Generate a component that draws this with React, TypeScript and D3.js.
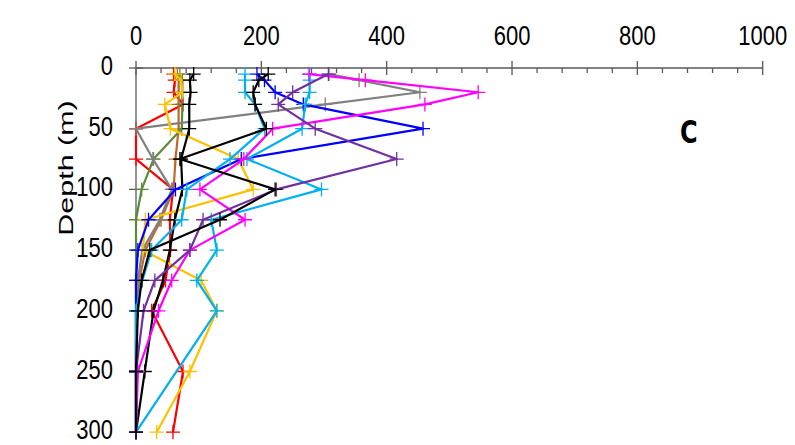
import React from "react";
import * as d3 from "d3";

const depths = [5, 10, 20, 30, 50, 75, 100, 125, 150, 175, 200, 250, 300];
const xTicks = [0, 200, 400, 600, 800, 1000];
const yTicks = [0, 50, 100, 150, 200, 250, 300];

const red = [60, 62, 60, 75, 0, 0, 59, 54, 55, 47, 25, 75, 59];
const brown = [66, 68, 68, 68, 68, 63, 60, 40, 15, 5, 0, 0, 0];
const green = [70, 74, 74, 74, 73, 28, 9, 0, 0, 0, 0, 0, 0];
const gray = [308, 356, 453, 302, 0, 27, 57, 38, 10, 3, 0, 0, 0];
const gold = [62, 72, 74, 46, 55, 163, 187, 15, 11, 104, 129, 86, 33];
const blackB = [92, 86, 87, 85, 85, 72, 74, 62, 54, 43, 28, 14, 0];
const blue = [193, 205, 222, 267, 458, 168, 63, 20, 3, 0, 0, 0, 0];
const cyan1 = [174, 174, 174, 190, 205, 150, 81, 73, 25, 10, 0, 0, 0];
const cyan2 = [277, 277, 277, 270, 265, 177, 296, 120, 129, 97, 129, null, 0];
const magenta = [276, 366, 546, 461, 218, 172, 102, 174, 86, 57, 36, 3, 0];
const purple = [307, null, 250, 227, 286, 416, 224, 107, 86, 30, 12, 0, 0];
const blackA = [211, 196, 187, 190, 208, 70, 222, 134, 22, 9, 3, 0, 0];

const series = [
  { name: "red", color: "#FF0000", values: red },
  { name: "brown", color: "#C0682A", values: brown },
  { name: "green", color: "#5B8A3A", values: green },
  { name: "gray", color: "#808080", values: gray },
  { name: "gold", color: "#FFC000", values: gold },
  { name: "blackB", color: "#000000", values: blackB },
  { name: "blue", color: "#0000FF", values: blue },
  { name: "cyan1", color: "#00B0F0", values: cyan1 },
  { name: "cyan2", color: "#00B0F0", values: cyan2 },
  { name: "magenta", color: "#FF00FF", values: magenta },
  { name: "purple", color: "#7030A0", values: purple },
  { name: "blackA", color: "#000000", values: blackA },
];

export default function App() {
  const W = 795, H = 445;
  const x = d3.scaleLinear().domain([0, 1000]).range([136, 762.7]);
  const y = d3.scaleLinear().domain([0, 300]).range([68, 432.2]);
  const minor = d3.range(0, 1001, 40).filter((v) => v % 200 !== 0);
  const line = d3
    .line<[number, number]>()
    .x((d) => x(d[0]))
    .y((d) => y(d[1]));
  const font = "'Liberation Sans', Arial, sans-serif";
  const axisColor = "#595959";
  const sy = 1.28;
  return (
    <svg width={W} height={H} style={{ position: "absolute", left: 0, top: 0 }}>
      <rect width={W} height={H} fill="#fff" />
      {/* x axis */}
      <line x1={x(0)} x2={x(1000)} y1={y(0)} y2={y(0)} stroke={axisColor} strokeWidth={1.3} />
      {xTicks.map((t) => (
        <line key={"xt" + t} x1={x(t)} x2={x(t)} y1={y(0) - 7} y2={y(0) + 7} stroke={axisColor} strokeWidth={1.3} />
      ))}
      {minor.map((t) => (
        <line key={"xm" + t} x1={x(t)} x2={x(t)} y1={y(0)} y2={y(0) + 5} stroke={axisColor} strokeWidth={1.3} />
      ))}
      {xTicks.map((t) => (
        <text
          key={"xl" + t}
          transform={`translate(${x(t)},${y(0) - 23.5}) scale(1,${sy})`}
          textAnchor="middle"
          fontFamily={font}
          fontSize={22}
          fill="#000"
        >
          {t}
        </text>
      ))}
      {/* y axis */}
      <line x1={x(0)} x2={x(0)} y1={y(0)} y2={y(300)} stroke={axisColor} strokeWidth={1.3} />
      {yTicks.map((t) => (
        <line key={"yt" + t} x1={x(0) - 7} x2={x(0) + 7} y1={y(t)} y2={y(t)} stroke={axisColor} strokeWidth={1.3} />
      ))}
      {yTicks.map((t) => (
        <text
          key={"yl" + t}
          transform={`translate(${x(0) - 23},${y(t)}) scale(1,${sy})`}
          dy="0.25em"
          textAnchor="end"
          fontFamily={font}
          fontSize={22}
          fill="#000"
        >
          {t}
        </text>
      ))}
      <text
        transform={`translate(73,168) scale(1,1.45) rotate(-90)`}
        textAnchor="middle"
        fontFamily={font}
        fontSize={21}
        fill="#000"
      >
        Depth (m)
      </text>
      <text
        transform="translate(680,143) scale(1,1.3)"
        fontFamily="'DejaVu Sans', Verdana, sans-serif"
        fontWeight="bold"
        fontSize={24}
        fill="#000"
      >
        C
      </text>
      {/* series */}
      {series.map((s) => {
        const pts: [number, number][] = [];
        s.values.forEach((v, i) => {
          if (v !== null && v !== undefined) pts.push([v as number, depths[i]]);
        });
        return (
          <g key={s.name}>
            <path d={line(pts) || ""} fill="none" stroke={s.color} strokeWidth={2.2} strokeLinejoin="round" />
            {pts.map((p, i) => (
              <path
                key={i}
                d={`M${x(p[0]) - 7},${y(p[1])}h14M${x(p[0])},${y(p[1]) - 7}v14`}
                stroke={s.color}
                strokeWidth={1.3}
              />
            ))}
          </g>
        );
      })}
    </svg>
  );
}
